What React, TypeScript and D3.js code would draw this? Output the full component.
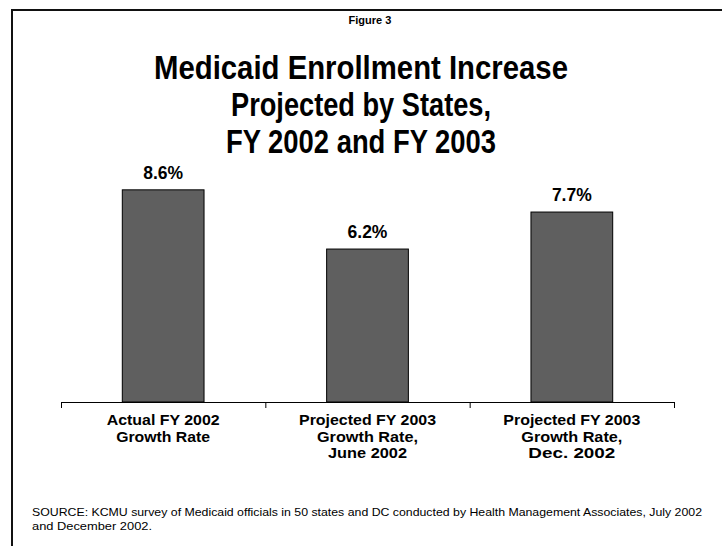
import React from "react";
import * as d3 from "d3";

const categories = ["Actual FY 2002", "Projected FY 2003 June", "Projected FY 2003 Dec"];
const categoryLabels = [
  ["Actual FY 2002", "Growth Rate"],
  ["Projected FY 2003", "Growth Rate,", "June 2002"],
  ["Projected FY 2003", "Growth Rate,", "Dec. 2002"],
];
const values = [8.6, 6.2, 7.7];
const valueLabels = ["8.6%", "6.2%", "7.7%"];
const titleLines = ["Medicaid Enrollment Increase", "Projected by States,", "FY 2002 and FY 2003"];
const figureLabel = "Figure 3";
const sourceLines = [
  "SOURCE: KCMU survey of Medicaid officials in 50 states and DC conducted by Health Management Associates, July 2002",
  "and December  2002.",
];

const W = 722;
const H = 546;
const FONT = "'Liberation Sans', Arial, Helvetica, sans-serif";

export default function App() {
  const x = d3.scaleBand<string>().domain(categories).range([61, 674]).padding(0);
  const y = d3.scaleLinear().domain([0, 10]).range([402, 155.3]);
  const bw = x.bandwidth();
  const ticks = [...categories.map((c) => x(c) as number), 674];
  const titleW = [414, 260, 270];
  const labelW = [
    [113, 94],
    [137, 101, 79],
    [137, 101, 87],
  ];

  return (
    <svg
      width={W}
      height={H}
      style={{ position: "absolute", left: 0, top: 0, background: "#fff" }}
      fontFamily={FONT}
    >
      <rect x={0} y={0} width={W} height={H} fill="#fff" />
      {/* frame */}
      <line x1={11} y1={10} x2={W} y2={10} stroke="#111" strokeWidth={2} />
      <line x1={12} y1={10} x2={12} y2={H} stroke="#111" strokeWidth={2} />

      <text x={370} y={24} textAnchor="middle" fontSize={11} fontWeight="bold" fill="#000">
        {figureLabel}
      </text>
      {titleLines.map((t, i) => (
        <text
          key={t}
          x={361}
          y={79 + i * 37}
          textAnchor="middle"
          fontSize={33}
          fontWeight="bold"
          fill="#000"
          textLength={titleW[i]}
          lengthAdjust="spacingAndGlyphs"
        >
          {t}
        </text>
      ))}

      {categories.map((c, i) => {
        const bx = (x(c) as number) + bw * 0.3;
        return (
          <g key={c}>
            <rect
              x={bx}
              y={y(values[i])}
              width={bw * 0.4}
              height={y(0) - y(values[i])}
              fill="#5f5f5f"
              stroke="#000"
              strokeWidth={1}
            />
            <text
              x={(x(c) as number) + bw / 2}
              y={y(values[i]) - 11}
              textAnchor="middle"
              fontSize={17.5}
              fontWeight="bold"
              fill="#000"
            >
              {valueLabels[i]}
            </text>
            {categoryLabels[i].map((l, j) => (
              <text
                key={j}
                x={(x(c) as number) + bw / 2}
                y={425 + j * 16.5}
                textAnchor="middle"
                fontSize={15}
                fontWeight="bold"
                fill="#000"
                textLength={labelW[i][j]}
                lengthAdjust="spacingAndGlyphs"
              >
                {l}
              </text>
            ))}
          </g>
        );
      })}

      {/* axis */}
      <line x1={61} y1={402.5} x2={674} y2={402.5} stroke="#000" strokeWidth={1} />
      {ticks.map((t, i) => (
        <line key={i} x1={t + 0.5} y1={402} x2={t + 0.5} y2={408} stroke="#000" strokeWidth={1} />
      ))}

      {sourceLines.map((s, i) => (
        <text
          key={i}
          x={32}
          y={516 + i * 14}
          fontSize={11.5}
          fill="#000"
          textLength={i === 0 ? 670 : 120}
          lengthAdjust="spacingAndGlyphs"
        >
          {s}
        </text>
      ))}
    </svg>
  );
}
